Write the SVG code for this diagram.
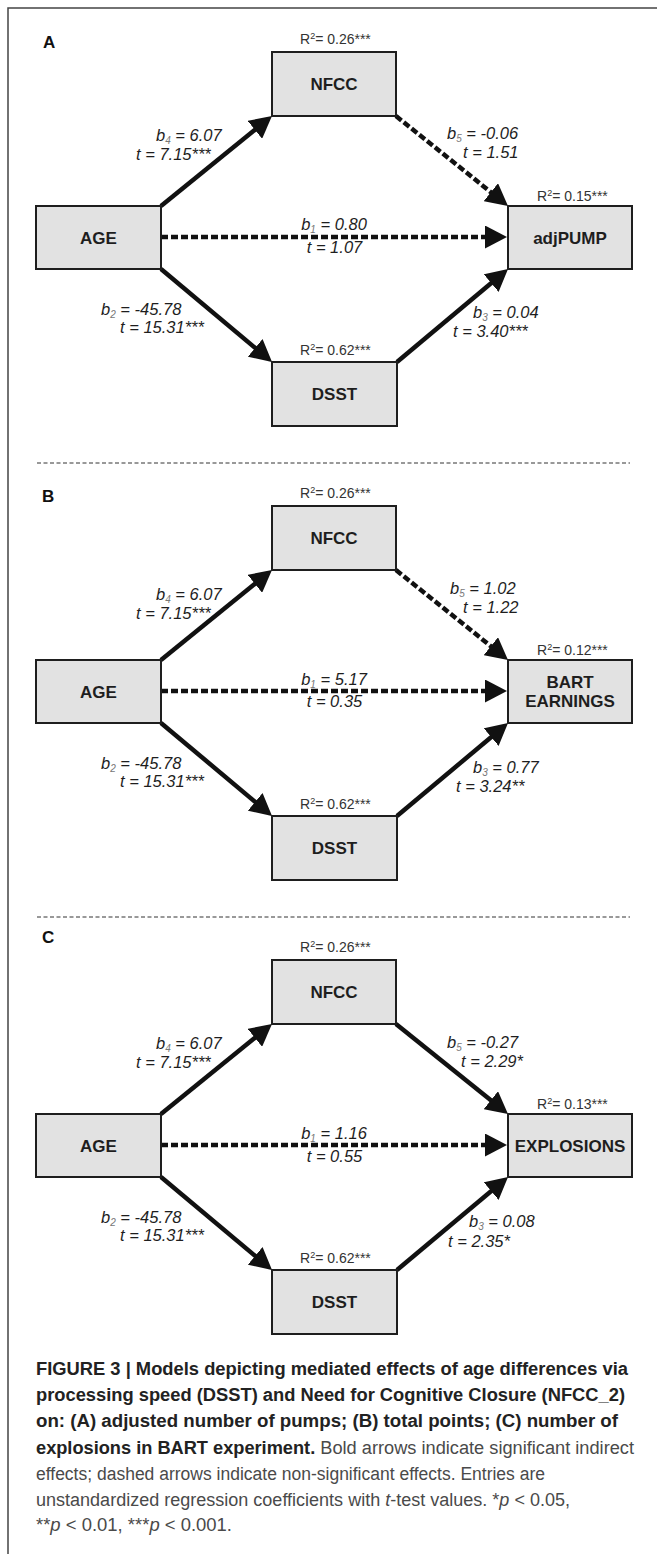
<svg xmlns="http://www.w3.org/2000/svg" width="657" height="1554" viewBox="0 0 657 1554">
<defs>
<style>
.frame{stroke:#444;stroke-width:1.5;fill:none}
.sep{stroke:#333;stroke-width:1;stroke-dasharray:4 2.5;fill:none}
.box{fill:#e2e2e2;stroke:#1e1e1e;stroke-width:2}
.node{font-family:"Liberation Sans",Arial,sans-serif;font-weight:bold;font-size:17px;fill:#1e1e1e;text-anchor:middle}
.plab{font-family:"Liberation Sans",Arial,sans-serif;font-weight:bold;font-size:17px;fill:#111}
.lbl{font-family:"Liberation Sans",Arial,sans-serif;font-style:italic;font-size:16.5px;fill:#1e1e1e}
.mid{text-anchor:middle}
.sub{font-size:10px;fill:#777}
.r2{font-family:"Liberation Sans",Arial,sans-serif;font-size:14px;fill:#333}
.sup{font-size:9px}
.arr{stroke:#111;stroke-width:4.5;fill:none;marker-end:url(#ah)}
.dash{stroke-dasharray:7 3}
.cap{font-family:"Liberation Sans",Arial,sans-serif;font-size:18px;fill:#4a4a4a}
.capb{font-weight:bold;fill:#222}
</style>
<marker id="ah" markerUnits="userSpaceOnUse" markerWidth="22" markerHeight="23" viewBox="0 0 22 23" refX="8" refY="11.5" orient="auto"><path d="M0,0 L22,11.5 L0,23 z" fill="#111"/></marker>
</defs>
<rect width="657" height="1554" fill="#fff"/>
<path class="frame" d="M657,8 H8 V1554"/>
<line class="sep" x1="37" y1="463" x2="630" y2="463"/>
<line class="sep" x1="37" y1="917" x2="630" y2="917"/>

<!-- Panel A -->
<g id="panelA">
<text class="plab" x="43" y="48">A</text>
<g id="A-connectors">
<line class="arr" x1="161" y1="206" x2="261.1" y2="124.8"/>
<line class="arr dash" x1="396" y1="116" x2="497.1" y2="197.2"/>
<line class="arr dash" x1="161" y1="237" x2="493" y2="237"/>
<line class="arr" x1="161" y1="269" x2="261.3" y2="353"/>
<line class="arr" x1="397" y1="362" x2="497.3" y2="278"/>
<text class="lbl" x="156" y="141">b<tspan class="sub" dy="3">4</tspan><tspan dy="-3"> = 6.07</tspan></text>
<text class="lbl" x="136" y="160">t = 7.15***</text>
<text class="lbl" x="447" y="139">b<tspan class="sub" dy="3">5</tspan><tspan dy="-3"> = -0.06</tspan></text>
<text class="lbl" x="463" y="158">t = 1.51</text>
<text class="lbl mid" x="334" y="230">b<tspan class="sub" dy="3">1</tspan><tspan dy="-3"> = 0.80</tspan></text>
<text class="lbl mid" x="334.5" y="253">t = 1.07</text>
<text class="lbl" x="101" y="315">b<tspan class="sub" dy="3">2</tspan><tspan dy="-3"> = -45.78</tspan></text>
<text class="lbl" x="120" y="333">t = 15.31***</text>
<text class="lbl" x="473" y="318">b<tspan class="sub" dy="3">3</tspan><tspan dy="-3"> = 0.04</tspan></text>
<text class="lbl" x="453" y="337">t = 3.40***</text>
</g>
<g id="A-NFCC"><text class="r2" x="300" y="44">R<tspan class="sup" dy="-5">2</tspan><tspan dy="5">= 0.26***</tspan></text><rect class="box" x="272" y="52" width="124" height="64"/><text class="node" x="334" y="90">NFCC</text></g>
<g id="A-AGE"><rect class="box" x="36" y="206" width="125" height="63"/><text class="node" x="98.5" y="244">AGE</text></g>
<g id="A-adjPUMP"><text class="r2" x="537" y="201">R<tspan class="sup" dy="-5">2</tspan><tspan dy="5">= 0.15***</tspan></text><rect class="box" x="508" y="206" width="124" height="63"/><text class="node" x="570" y="243.5">adjPUMP</text></g>
<g id="A-DSST"><text class="r2" x="300" y="355">R<tspan class="sup" dy="-5">2</tspan><tspan dy="5">= 0.62***</tspan></text><rect class="box" x="272" y="362" width="125" height="64"/><text class="node" x="334.5" y="400">DSST</text></g>
</g>

<!-- Panel B -->
<g id="panelB" transform="translate(0,454)">
<text class="plab" x="42" y="48">B</text>
<g id="B-connectors">
<line class="arr" x1="161" y1="206" x2="261.1" y2="124.8"/>
<line class="arr dash" x1="396" y1="116" x2="497.1" y2="197.2"/>
<line class="arr dash" x1="161" y1="237" x2="493" y2="237"/>
<line class="arr" x1="161" y1="269" x2="261.3" y2="353"/>
<line class="arr" x1="397" y1="362" x2="497.3" y2="278"/>
<text class="lbl" x="156" y="146">b<tspan class="sub" dy="3">4</tspan><tspan dy="-3"> = 6.07</tspan></text>
<text class="lbl" x="136" y="165">t = 7.15***</text>
<text class="lbl" x="450" y="140">b<tspan class="sub" dy="3">5</tspan><tspan dy="-3"> = 1.02</tspan></text>
<text class="lbl" x="463" y="159">t = 1.22</text>
<text class="lbl mid" x="334" y="231">b<tspan class="sub" dy="3">1</tspan><tspan dy="-3"> = 5.17</tspan></text>
<text class="lbl mid" x="334.5" y="253">t = 0.35</text>
<text class="lbl" x="101" y="315">b<tspan class="sub" dy="3">2</tspan><tspan dy="-3"> = -45.78</tspan></text>
<text class="lbl" x="120" y="333">t = 15.31***</text>
<text class="lbl" x="473" y="319">b<tspan class="sub" dy="3">3</tspan><tspan dy="-3"> = 0.77</tspan></text>
<text class="lbl" x="456" y="338">t = 3.24**</text>
</g>
<g id="B-NFCC"><text class="r2" x="300" y="44">R<tspan class="sup" dy="-5">2</tspan><tspan dy="5">= 0.26***</tspan></text><rect class="box" x="272" y="52" width="124" height="64"/><text class="node" x="334" y="90">NFCC</text></g>
<g id="B-AGE"><rect class="box" x="36" y="206" width="125" height="63"/><text class="node" x="98.5" y="244">AGE</text></g>
<g id="B-BART"><text class="r2" x="537" y="201">R<tspan class="sup" dy="-5">2</tspan><tspan dy="5">= 0.12***</tspan></text><rect class="box" x="508" y="206" width="124" height="63"/><text class="node" x="570" y="234">BART</text><text class="node" x="570" y="252.5">EARNINGS</text></g>
<g id="B-DSST"><text class="r2" x="300" y="355">R<tspan class="sup" dy="-5">2</tspan><tspan dy="5">= 0.62***</tspan></text><rect class="box" x="272" y="362" width="125" height="64"/><text class="node" x="334.5" y="400">DSST</text></g>
</g>

<!-- Panel C -->
<g id="panelC" transform="translate(0,908)">
<text class="plab" x="42" y="35">C</text>
<g id="C-connectors">
<line class="arr" x1="161" y1="206" x2="261.1" y2="124.8"/>
<line class="arr" x1="396" y1="116" x2="497.1" y2="197.2"/>
<line class="arr dash" x1="161" y1="237" x2="493" y2="237"/>
<line class="arr" x1="161" y1="269" x2="261.3" y2="353"/>
<line class="arr" x1="397" y1="362" x2="497.3" y2="278"/>
<text class="lbl" x="156" y="141">b<tspan class="sub" dy="3">4</tspan><tspan dy="-3"> = 6.07</tspan></text>
<text class="lbl" x="136" y="160">t = 7.15***</text>
<text class="lbl" x="447" y="140">b<tspan class="sub" dy="3">5</tspan><tspan dy="-3"> = -0.27</tspan></text>
<text class="lbl" x="461" y="159">t = 2.29*</text>
<text class="lbl mid" x="334" y="231">b<tspan class="sub" dy="3">1</tspan><tspan dy="-3"> = 1.16</tspan></text>
<text class="lbl mid" x="334.5" y="254">t = 0.55</text>
<text class="lbl" x="101" y="315">b<tspan class="sub" dy="3">2</tspan><tspan dy="-3"> = -45.78</tspan></text>
<text class="lbl" x="120" y="333">t = 15.31***</text>
<text class="lbl" x="469" y="319">b<tspan class="sub" dy="3">3</tspan><tspan dy="-3"> = 0.08</tspan></text>
<text class="lbl" x="448" y="339">t = 2.35*</text>
</g>
<g id="C-NFCC"><text class="r2" x="300" y="44">R<tspan class="sup" dy="-5">2</tspan><tspan dy="5">= 0.26***</tspan></text><rect class="box" x="272" y="52" width="124" height="64"/><text class="node" x="334" y="90">NFCC</text></g>
<g id="C-AGE"><rect class="box" x="36" y="206" width="125" height="63"/><text class="node" x="98.5" y="244">AGE</text></g>
<g id="C-EXPLOSIONS"><text class="r2" x="537" y="201">R<tspan class="sup" dy="-5">2</tspan><tspan dy="5">= 0.13***</tspan></text><rect class="box" x="508" y="206" width="124" height="63"/><text class="node" x="570" y="244">EXPLOSIONS</text></g>
<g id="C-DSST"><text class="r2" x="300" y="355">R<tspan class="sup" dy="-5">2</tspan><tspan dy="5">= 0.62***</tspan></text><rect class="box" x="272" y="362" width="125" height="64"/><text class="node" x="334.5" y="400">DSST</text></g>
</g>

<!-- Caption -->
<g id="caption">
<text class="cap capb" x="36" y="1375" textLength="592" lengthAdjust="spacingAndGlyphs">FIGURE 3 | Models depicting mediated effects of age differences via</text>
<text class="cap capb" x="36" y="1401" textLength="589" lengthAdjust="spacingAndGlyphs">processing speed (DSST) and Need for Cognitive Closure (NFCC_2)</text>
<text class="cap capb" x="36" y="1427" textLength="582" lengthAdjust="spacingAndGlyphs">on: (A) adjusted number of pumps; (B) total points; (C) number of</text>
<text class="cap" x="36" y="1454" textLength="598" lengthAdjust="spacingAndGlyphs"><tspan class="capb">explosions in BART experiment.</tspan> Bold arrows indicate significant indirect</text>
<text class="cap" x="36" y="1480" textLength="509" lengthAdjust="spacingAndGlyphs">effects; dashed arrows indicate non-significant effects. Entries are</text>
<text class="cap" x="36" y="1506" textLength="534" lengthAdjust="spacingAndGlyphs">unstandardized regression coefficients with <tspan font-style="italic">t</tspan>-test values. *<tspan font-style="italic">p</tspan> &lt; 0.05,</text>
<text class="cap" x="36" y="1531" textLength="196" lengthAdjust="spacingAndGlyphs">**<tspan font-style="italic">p</tspan> &lt; 0.01, ***<tspan font-style="italic">p</tspan> &lt; 0.001.</text>
</g>
</svg>
